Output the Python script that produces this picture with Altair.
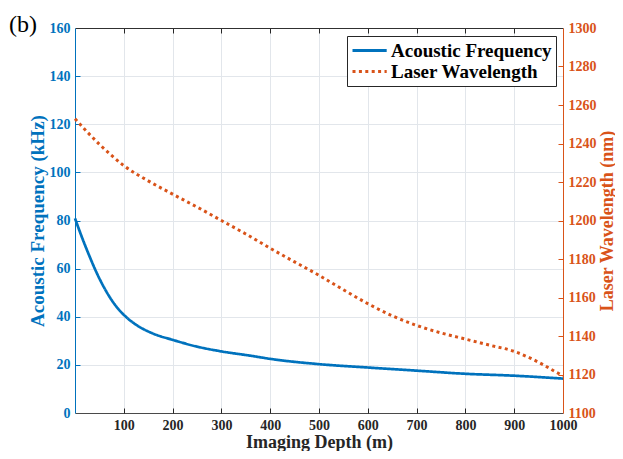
import altair as alt
import pandas as pd

# ---- data ----
depth_af = [0, 10, 20, 30, 45, 60, 80, 100, 125, 160, 200, 250, 300, 360, 400,
            500, 600, 700, 800, 900, 1000]
freq_khz = [80.9, 75.3, 70.0, 65.0, 58.0, 52.0, 45.5, 40.8, 36.7, 33.0, 30.4,
            27.6, 25.6, 23.8, 22.5, 20.3, 18.9, 17.6, 16.3, 15.5, 14.3]

depth_lw = [0, 25, 50, 75, 100, 150, 200, 250, 300, 350, 400, 450, 500, 550,
            600, 650, 700, 750, 800, 850, 900, 933, 960, 984, 1000]
wavelength_nm = [1252.8, 1246.0, 1239.6, 1233.8, 1228.5, 1220.6, 1213.7, 1207.0,
                 1200.0, 1193.0, 1185.6, 1178.5, 1171.5, 1164.0, 1156.8, 1150.5,
                 1145.5, 1141.6, 1138.4, 1135.2, 1132.0, 1128.5, 1125.0, 1121.5,
                 1119.4]

series_names = ["Acoustic Frequency", "Laser Wavelength"]
series_colors = ["#0072BD", "#D95319"]
series_dashes = [[1, 0], [3, 3.4]]

x_labels = [100, 200, 300, 400, 500, 600, 700, 800, 900, 1000]
x_inner = [100, 200, 300, 400, 500, 600, 700, 800, 900]
y_left_labels = [0, 20, 40, 60, 80, 100, 120, 140, 160]
y_left_inner = [20, 40, 60, 80, 100, 120, 140]
y_right_labels = [1100, 1120, 1140, 1160, 1180, 1200, 1220, 1240, 1260, 1280, 1300]
y_right_inner = [1120, 1140, 1160, 1180, 1200, 1220, 1240, 1260, 1280]

df_af = pd.DataFrame({"depth": depth_af, "value": freq_khz, "series": series_names[0]})
df_lw = pd.DataFrame({"depth": depth_lw, "value": wavelength_nm, "series": series_names[1]})

BLUE, ORANGE, DARK = series_colors[0], series_colors[1], "#262626"
FONT = "Liberation Serif"
W, H = 488, 385

xs = alt.Scale(domain=[0, 1000], nice=False)
ys_left = alt.Scale(domain=[0, 160], nice=False, zero=False)
ys_right = alt.Scale(domain=[1100, 1300], nice=False, zero=False)
color_scale = alt.Scale(domain=series_names, range=series_colors)
dash_scale = alt.Scale(domain=series_names, range=series_dashes)

lab = dict(labelFont=FONT, labelFontSize=14, labelFontWeight="bold",
           labelFlush=False, labelOverlap=False, labelBound=False, format="d")
ttl = dict(titleFont=FONT, titleFontWeight="bold")


def ticks_only(orient, values, color, offset=-5):
    return alt.Axis(orient=orient, values=values, offset=offset, tickSize=5,
                    tickColor=color, tickWidth=1, labels=False, domain=False,
                    grid=False, title=None)


# Layer 1: acoustic frequency, main bottom axis and main left axis
l1 = alt.Chart(df_af).mark_line(strokeWidth=2.7, interpolate="monotone").encode(
    x=alt.X("depth:Q", scale=xs, axis=alt.Axis(
        orient="bottom", values=x_labels, ticks=False, tickSize=0, grid=False,
        domain=True, domainColor="#4a4a4a", domainWidth=1.2,
        labelColor=DARK, labelPadding=5, title="Imaging Depth (m)",
        titleColor=DARK, titleFontSize=18, titleX=W / 2, titleY=34,
        titleAlign="center", titleBaseline="alphabetic", **lab, **ttl)),
    y=alt.Y("value:Q", scale=ys_left, axis=alt.Axis(
        orient="left", values=y_left_labels, ticks=False, tickSize=0, grid=False,
        domain=True, domainColor=BLUE, labelColor=BLUE, labelPadding=5,
        title="Acoustic Frequency (kHz)", titleColor=BLUE, titleFontSize=19,
        titleAngle=270, titleX=-32, titleY=H / 2, titleAlign="center",
        titleBaseline="alphabetic", **lab, **ttl)),
    color=alt.Color("series:N", scale=color_scale, legend=alt.Legend(title=None)),
    strokeDash=alt.StrokeDash("series:N", scale=dash_scale, legend=alt.Legend(title=None)),
)

# Layer 2: laser wavelength, right axis and inner bottom ticks
l2 = alt.Chart(df_lw).mark_line(strokeWidth=3, strokeCap="butt", interpolate="monotone").encode(
    x=alt.X("depth:Q", scale=xs, axis=ticks_only("bottom", x_inner, DARK)),
    y=alt.Y("value:Q", scale=ys_right, axis=alt.Axis(
        orient="right", values=y_right_labels, ticks=False, tickSize=0, grid=False,
        domain=True, domainColor=ORANGE, labelColor=ORANGE, labelPadding=5,
        title="Laser Wavelength (nm)", titleColor=ORANGE, titleFontSize=18,
        titleAngle=270, titleX=49, titleY=H / 2, titleAlign="center",
        titleBaseline="alphabetic", **lab, **ttl)),
    color=alt.Color("series:N", scale=color_scale, legend=alt.Legend(title=None)),
    strokeDash=alt.StrokeDash("series:N", scale=dash_scale, legend=alt.Legend(title=None)),
)

# Layer 3: invisible, top inner ticks and left inner ticks
l3 = alt.Chart(df_af).mark_line(opacity=0).encode(
    x=alt.X("depth:Q", scale=xs, axis=ticks_only("top", x_inner, DARK)),
    y=alt.Y("value:Q", scale=ys_left, axis=ticks_only("left", y_left_inner, BLUE)),
)

# Layer 4: invisible, top border and right inner ticks
l4 = alt.Chart(df_lw).mark_line(opacity=0).encode(
    x=alt.X("depth:Q", scale=xs, axis=alt.Axis(
        orient="top", values=x_inner, ticks=False, labels=False, grid=False,
        domain=True, domainColor="#303030", domainWidth=1, title=None)),
    y=alt.Y("value:Q", scale=ys_right, axis=ticks_only("right", y_right_inner, ORANGE)),
)

# Layer 5: invisible, grid lines
l5 = alt.Chart(df_af).mark_line(opacity=0).encode(
    x=alt.X("depth:Q", scale=xs, axis=alt.Axis(
        orient="bottom", values=x_inner, ticks=False, labels=False, domain=False,
        grid=True, gridColor="#e2e6eb", gridWidth=1, title=None)),
    y=alt.Y("value:Q", scale=ys_left, axis=alt.Axis(
        orient="left", values=y_left_inner, ticks=False, labels=False, domain=False,
        grid=True, gridColor="#e2e6eb", gridWidth=1, title=None)),
)

chart = alt.layer(l5, l1, l2, l3, l4).resolve_scale(
    y="independent"
).resolve_axis(
    x="independent", y="independent"
).properties(
    width=W, height=H,
    autosize=alt.AutoSizeParams(type="none"),
    padding={"left": 67, "top": 20, "right": 52, "bottom": 38},
    title=alt.TitleParams("(b)", anchor="start", frame="group", font=FONT,
                          fontSize=24, fontWeight="normal", color="black",
                          dx=-66, dy=35, offset=0, baseline="alphabetic",
                          align="left"),
).configure(font=FONT).configure_view(
    strokeWidth=0
).configure_legend(
    orient="none", legendX=272, legendY=8, padding=4, rowPadding=-3,
    strokeColor=DARK, fillColor="white", symbolType="M-1,0H2.8",
    symbolSize=324, symbolStrokeWidth=3, labelFont=FONT, labelFontSize=19,
    labelFontWeight="bold", labelColor="black", labelOffset=19, labelLimit=400,
    cornerRadius=0,
)

chart.save("out.html", embed_options={"renderer": "svg", "actions": False})
